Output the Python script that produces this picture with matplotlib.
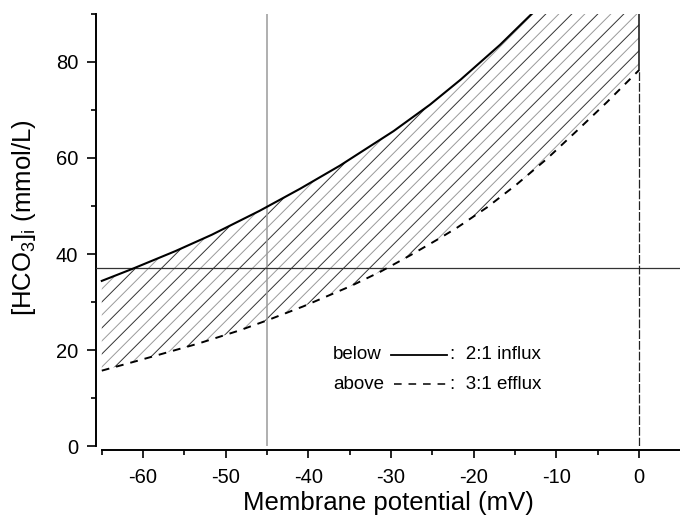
import numpy as np
import matplotlib
matplotlib.use("Agg")
import matplotlib.pyplot as plt
from matplotlib.patches import Polygon
from matplotlib.ticker import MultipleLocator

plt.rcParams['font.family'] = ['Liberation Sans', 'DejaVu Sans']
plt.rcParams['mathtext.fontset'] = 'custom'
plt.rcParams['mathtext.rm'] = 'Liberation Sans'
plt.rcParams['axes.unicode_minus'] = False

# ======================== Data ========================
# 2:1 stoichiometry boundary (solid): influx below this curve
influx_mv = [-65, -61.3, -56.1, -51.7, -45.9, -41.0, -36.2, -29.7, -25.3, -21.6, -16.8, -13.0]
influx_hco3 = [34.4, 36.9, 40.6, 44.0, 49.0, 53.6, 58.4, 65.6, 71.1, 76.3, 83.6, 90.0]
# 3:1 stoichiometry boundary (dashed): efflux above this curve
efflux_mv = [-65, -61.0, -57.7, -53.4, -48.3, -44.8, -40.6, -34.9, -31.3, -27.7, -24.1,
             -22.0, -18.4, -14.8, -11.1, -7.5, -3.9, 0]
efflux_hco3 = [15.7, 17.6, 19.2, 21.3, 24.1, 26.3, 29.1, 33.3, 36.3, 39.7, 43.3,
               45.5, 49.7, 54.5, 59.9, 65.7, 71.6, 78.3]
ref_hco3 = 37     # horizontal reference line
ref_mv = -45      # vertical reference line
x_ticks = [-60, -50, -40, -30, -20, -10, 0]
y_ticks = [0, 20, 40, 60, 80]

# ======================== Figure and Axes ========================
fig = plt.figure(figsize=(6.8, 5.16), dpi=100)
ax = fig.add_axes([96/680, 70/516, 584/680, 432/516])
ax.set_xlim(-65.7, 4.96)
ax.set_ylim(0, 90)

# hatched region between the two boundaries
top = ax.get_ylim()[1]
poly_x = influx_mv + [0, 0] + efflux_mv[::-1]
poly_y = influx_hco3 + [top, efflux_hco3[-1]] + efflux_hco3[::-1]
region = Polygon(np.column_stack([poly_x, poly_y]), closed=True,
                 facecolor='none', edgecolor='none')
ax.add_patch(region)

# 45 degree hatch lines (in pixels), alternating dark / grey
p0 = ax.transData.transform((0, 0))
p1 = ax.transData.transform((1, 1))
kx, ky = p1[0] - p0[0], p1[1] - p0[1]
slope = kx / ky
step = 13.0 / kx
xs = np.array([-70, 5])
offsets = np.arange(-65 - 95 / slope, 5, step)
for i, c in enumerate(offsets):
    ln, = ax.plot(xs, slope * (xs - c), color='#333333' if i % 2 == 0 else '#9a9a9a',
                  lw=0.7, zorder=2)
    ln.set_clip_path(region)

# reference lines
ax.axvline(ref_mv, color='#9a9a9a', lw=1.1, zorder=3)
ax.axhline(ref_hco3, color='#333333', lw=0.9, zorder=3)
ax.plot([0, 0], [0, efflux_hco3[-1]], color='#222222', lw=0.9, ls=(0, (7, 1.6)), zorder=3)
ax.plot([0, 0], [efflux_hco3[-1], top], color='#222222', lw=1.2, zorder=3)

# boundary curves
ax.plot(influx_mv, influx_hco3, color='black', lw=1.5, zorder=4)
ax.plot(efflux_mv, efflux_hco3, color='black', lw=1.4, ls=(0, (4, 3.6)), zorder=4)

# legend built by hand
fs_leg = 13.5
ax.text(0.406, 0.211, 'below', transform=ax.transAxes, fontsize=fs_leg, va='center')
ax.plot([0.505, 0.601], [0.211, 0.211], transform=ax.transAxes, color='black', lw=1.3)
ax.text(0.607, 0.211, ':  2:1 influx', transform=ax.transAxes, fontsize=fs_leg, va='center')
ax.text(0.406, 0.1435, 'above', transform=ax.transAxes, fontsize=fs_leg, va='center')
ax.plot([0.510, 0.601], [0.1435, 0.1435], transform=ax.transAxes, color='black', lw=1.1,
        ls=(0, (5, 4.5)))
ax.text(0.607, 0.1435, ':  3:1 efflux', transform=ax.transAxes, fontsize=fs_leg, va='center')

# axes styling
ax.spines['top'].set_visible(False)
ax.spines['right'].set_visible(False)
ax.spines['left'].set_linewidth(1.4)
ax.spines['bottom'].set_linewidth(1.4)
ax.spines['bottom'].set_position(('outward', 3))
ax.spines['bottom'].set_bounds(-65, ax.get_xlim()[1])
ax.set_xticks(x_ticks)
ax.set_yticks(y_ticks)
ax.xaxis.set_minor_locator(MultipleLocator(5))
ax.yaxis.set_minor_locator(MultipleLocator(10))
ax.tick_params(which='major', direction='out', length=6, width=1.2, labelsize=14.5)
ax.tick_params(which='minor', direction='out', length=3.5, width=1.2)
ax.tick_params(axis='x', which='major', pad=6.5)
ax.tick_params(axis='y', which='major', length=6.7, pad=6)

ax.set_xlabel('Membrane potential (mV)', fontsize=18.5, labelpad=3)
ax.set_ylabel(r'[HCO$_{\mathregular{3}}$]$_{\mathregular{i}}$ (mmol/L)', fontsize=18.5)
ax.yaxis.set_label_coords(-0.1, 0.528)

fig.savefig('out.png', dpi=100)
